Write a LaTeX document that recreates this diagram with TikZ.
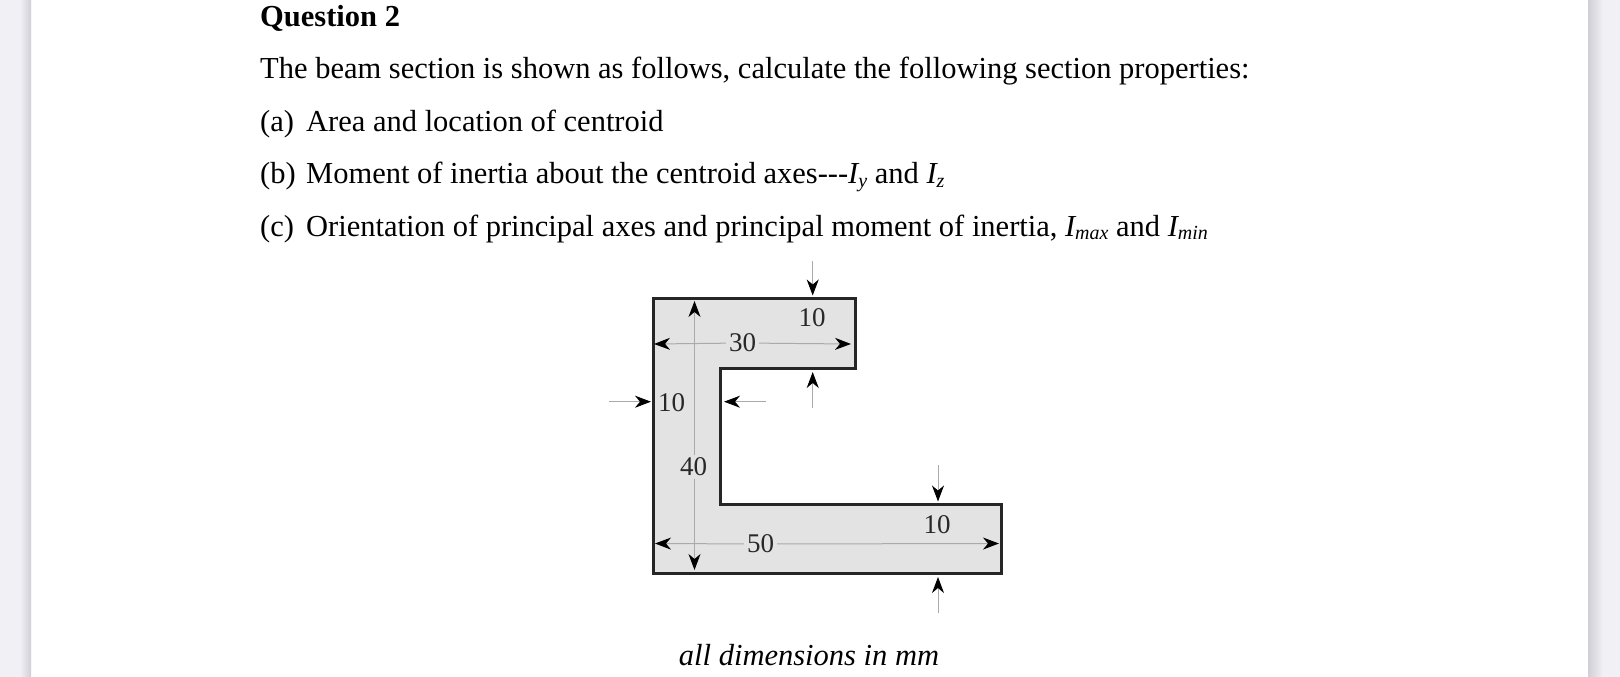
\documentclass[tikz,border=0pt]{standalone}
\usepackage{fontspec}
\setmainfont{Liberation Serif}
\usetikzlibrary{arrows.meta}
\definecolor{pagebg}{HTML}{F0F0F5}
\definecolor{shadowc}{HTML}{CFCFD6}
\definecolor{secfill}{HTML}{E3E3E3}
\definecolor{dimtxt}{HTML}{282828}
\definecolor{dimline}{HTML}{AAAAAA}
\newcommand{\lowsub}[1]{\raisebox{-0.12em}{\fontsize{20}{24}\selectfont #1}}
\tikzset{
  body/.style={anchor=base west,inner sep=0pt,font=\fontsize{30.5}{36}\selectfont,text=black},
  dimlab/.style={font=\fontsize{27}{30}\selectfont,text=dimtxt,inner sep=1pt},
  dimgap/.style={dimlab,fill=secfill,inner xsep=3pt,inner ysep=3pt},
  dimarrow/.style={draw=dimline,line width=1pt,-{Stealth[length=16pt,width=12pt,inset=5pt,color=black]}},
  section/.style={draw=black!85,line width=3pt,fill=secfill,line join=miter}
}
\begin{document}
\begin{tikzpicture}[x=1pt,y=-1pt]
\useasboundingbox (0,0) rectangle (1620,677);
% page and shadows
\fill[pagebg] (0,0) rectangle (1620,677);
\fill[white] (31,0) rectangle (1588,677);
\shade[left color=pagebg,right color=shadowc] (20,0) rectangle (31,677);
\shade[left color=shadowc,right color=pagebg] (1588,0) rectangle (1603,677);
% text
\node[body,font=\fontsize{30.5}{36}\selectfont\bfseries] (q) at (260,26.5) {Question 2};
\node[body] (intro) at (260,78.5) {The beam section is shown as follows, calculate the following section properties:};
\node[body] (pa) at (260,131) {(a)};
\node[body] (ta) at (306,131) {Area and location of centroid};
\node[body] (pb) at (260,183.5) {(b)};
\node[body] (tb) at (306,183.5) {Moment of inertia about the centroid axes{-}{-}{-}\textit{I\lowsub{y}} and \textit{I\lowsub{z}}};
\node[body] (pc) at (260,236) {(c)};
\node[body] (tc) at (306,236) {Orientation of principal axes and principal moment of inertia, \textit{I\lowsub{max}} and \textit{I\lowsub{min}}};
\node[anchor=base,inner sep=0pt,font=\fontsize{30.5}{36}\selectfont\itshape] (cap) at (809,665) {all dimensions in mm};
% section
\draw[section] (653,298) -- (855,298) -- (855,368) -- (720,368) -- (720,504) -- (1001,504) -- (1001,573) -- (653,573) -- cycle;
% labels
\node[dimgap] (l30) at (742.5,343) {30};
\node[dimgap] (l50) at (760.5,544) {50};
\node[dimgap] (l40) at (693.5,467) {40};
\node[dimlab] (l10a) at (812,318) {10};
\node[dimlab] (l10b) at (671.5,403) {10};
\node[dimlab] (l10c) at (937,525) {10};
% end points
\coordinate (e30l) at (654,344);
\coordinate (e30r) at (851,344);
\coordinate (e50l) at (655,543.5);
\coordinate (e50r) at (999,543.5);
\coordinate (e40t) at (694.5,301);
\coordinate (e40b) at (694.5,570);
\coordinate (a1s) at (812.7,261); \coordinate (a1e) at (812.7,295.5);
\coordinate (a2s) at (812.7,408); \coordinate (a2e) at (812.7,372);
\coordinate (a3s) at (609,401.7); \coordinate (a3e) at (651,401.7);
\coordinate (a4s) at (766,401.7); \coordinate (a4e) at (724,401.7);
\coordinate (a5s) at (938,465); \coordinate (a5e) at (938,501.5);
\coordinate (a6s) at (938,613); \coordinate (a6e) at (938,577);
% dimension lines
\draw[dimarrow] (l40.north -| e40t) -- (e40t);
\draw[dimarrow] (l40.south -| e40b) -- (e40b);
\draw[dimarrow] (l30) -- (e30l);
\draw[dimarrow] (l30) -- (e30r);
\draw[dimarrow] (l50) -- (e50l);
\draw[dimarrow] (l50) -- (e50r);
\draw[dimarrow] (a1s) -- (a1e);
\draw[dimarrow] (a2s) -- (a2e);
\draw[dimarrow] (a3s) -- (a3e);
\draw[dimarrow] (a4s) -- (a4e);
\draw[dimarrow] (a5s) -- (a5e);
\draw[dimarrow] (a6s) -- (a6e);
\end{tikzpicture}
\end{document}
